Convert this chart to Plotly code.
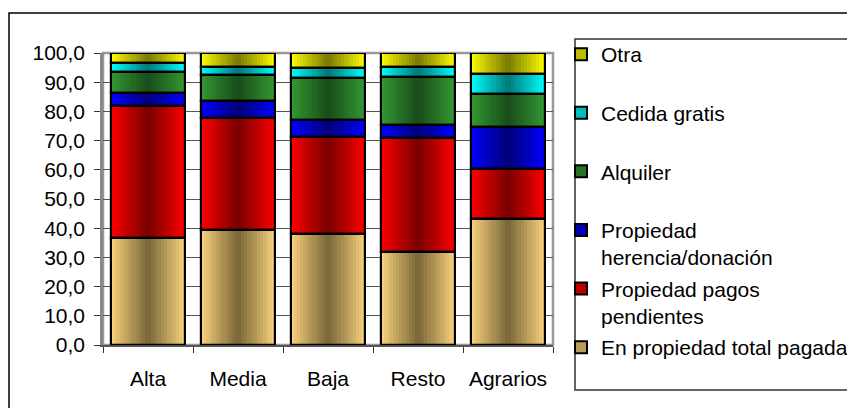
import numpy as np
import plotly.graph_objects as go

categories = ["Alta", "Media", "Baja", "Resto", "Agrarios"]
series_names = ["En propiedad total pagada", "Propiedad pagos pendientes",
                "Propiedad herencia/donación", "Alquiler", "Cedida gratis", "Otra"]
legend_labels = ["En propiedad total pagada", "Propiedad pagos<br>pendientes",
                 "Propiedad<br>herencia/donación", "Alquiler<br>\u00a0",
                 "Cedida gratis<br>\u00a0", "Otra<br>\u00a0"]
en_propiedad = [36.5, 39.4, 37.9, 31.7, 43.2]
pagos_pendientes = [45.3, 38.4, 33.4, 39.1, 17.0]
herencia = [4.4, 5.8, 5.8, 4.5, 14.6]
alquiler = [7.3, 9.0, 14.5, 16.6, 11.2]
cedida = [3.0, 2.7, 3.2, 3.4, 6.8]
otra = [3.5, 4.7, 5.2, 4.7, 7.2]

values = [en_propiedad, pagos_pendientes, herencia, alquiler, cedida, otra]
edge_colors = [(250, 212, 125), (255, 0, 0), (0, 0, 255), (51, 153, 51), (0, 255, 255), (255, 255, 0)]
center_colors = [(120, 100, 55), (120, 0, 0), (0, 0, 120), (25, 75, 25), (0, 120, 120), (120, 120, 0)]

vals = np.array(values, dtype=float)
bases = np.vstack([np.zeros(vals.shape[1]), np.cumsum(vals, axis=0)[:-1]])

BW = 0.833
N = 24
FONT = "Liberation Sans, Arial, sans-serif"
FS = 21

def rgb(c):
    return "rgb(%d,%d,%d)" % tuple(int(round(v)) for v in c)

def mix(a, b, t):
    return tuple(a[i] + (b[i] - a[i]) * t for i in range(3))

fig = go.Figure()
nser = len(series_names)

# legend / underlay traces
for i, name in enumerate(series_names):
    fig.add_trace(go.Bar(
        x=categories, y=vals[i], base=bases[i], width=BW,
        name=legend_labels[i], legendgroup=name, legendrank=nser - i,
        marker=dict(color=rgb(mix(center_colors[i], edge_colors[i], 0.5)),
                    line=dict(color="black", width=2)),
        hoverinfo="skip"))

# gradient strips
for i, name in enumerate(series_names):
    for k in range(N):
        t = abs((k + 0.5) / N - 0.5) * 2
        fig.add_trace(go.Bar(
            x=categories, y=vals[i], base=bases[i],
            width=BW / N * 1.15, offset=-BW / 2 + k * BW / N,
            marker=dict(color=rgb(mix(center_colors[i], edge_colors[i], t)), line=dict(width=0)),
            showlegend=False, legendgroup=name, hoverinfo="skip"))

# outlines on top
for i, name in enumerate(series_names):
    fig.add_trace(go.Bar(
        x=categories, y=vals[i], base=bases[i], width=BW,
        marker=dict(color="rgba(0,0,0,0)", line=dict(color="black", width=2.2)),
        showlegend=False, legendgroup=name,
        hovertemplate=name + ": %{y:.1f}<extra>%{x}</extra>"))

# page body has an 8px margin: work in screen pixels and convert
OFF = 8
W, H = 855 - OFF, 408 - OFF
scr_l, scr_r, scr_t, scr_b = 103, 553, 53, 345
px_l, px_r, px_t, px_b = scr_l - OFF, scr_r - OFF, scr_t - OFF, scr_b - OFF

def px_x(p):
    return (p - OFF - px_l) / (px_r - px_l)

def px_y(p):
    return (px_b - (p - OFF)) / (px_b - px_t)

fig.update_layout(
    width=W, height=H,
    margin=dict(l=px_l, r=W - px_r, t=px_t, b=H - px_b, pad=0, autoexpand=False),
    barmode="overlay",
    bargap=0,
    plot_bgcolor="white", paper_bgcolor="white",
    separators=",.",
    font=dict(family=FONT, size=FS, color="black"),
    showlegend=True,
    legend=dict(xref="container", yref="container",
                x=(561 - OFF) / W, xanchor="left", y=1 - (34 - OFF) / H, yanchor="top",
                maxheight=380,
                traceorder="grouped", tracegroupgap=1,
                valign="top", bgcolor="rgba(0,0,0,0)", borderwidth=0,
                font=dict(family=FONT, size=FS, color="black")),
    xaxis=dict(type="category", range=[-0.5, 4.5], showgrid=False,
               ticks="outside", tickson="boundaries", ticklen=6, tickcolor="#333",
               showline=True, linecolor="#555", linewidth=1.5,
               ticklabelstandoff=14, tickfont=dict(size=FS)),
    yaxis=dict(range=[0, 100], dtick=10, tickformat=".1f",
               showgrid=True, gridcolor="#555", gridwidth=1,
               ticks="outside", ticklen=6, tickcolor="#333",
               showline=True, linecolor="#888", linewidth=2.5,
               ticklabelstandoff=5,
               zeroline=False, tickfont=dict(size=FS)),
    shapes=[
        dict(type="rect", xref="paper", yref="paper", x0=0, x1=1, y0=0, y1=1,
             line=dict(color="#999", width=2.5), layer="below"),
        dict(type="rect", xref="paper", yref="paper",
             x0=px_x(575), x1=px_x(880), y0=px_y(390), y1=px_y(39),
             line=dict(color="#333", width=1.5)),
        dict(type="rect", xref="paper", yref="paper",
             x0=px_x(9), x1=px_x(880), y0=px_y(430), y1=px_y(13),
             line=dict(color="black", width=1.5)),
    ],
)

fig.write_html("out.html")
